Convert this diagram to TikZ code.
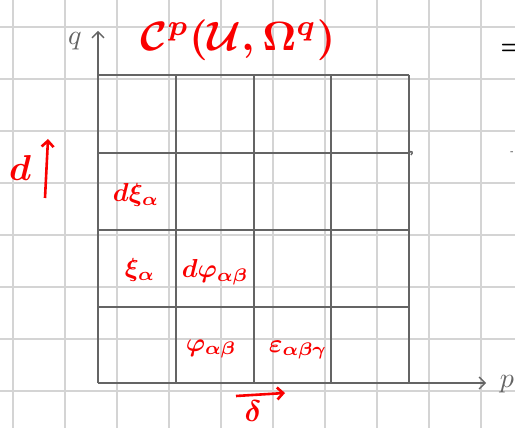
\documentclass[tikz,border=0pt]{standalone}
\usetikzlibrary{arrows.meta}
\definecolor{paper}{RGB}{212,212,212}
\definecolor{ink}{RGB}{100,100,100}
\definecolor{pen}{RGB}{250,0,0}
\tikzset{
  gridline/.style={draw=paper, line width=1.3pt},
  cell/.style={draw=ink, line width=1.4pt},
  axis/.style={draw=ink, line width=1.4pt, -{Straight Barb[length=6pt,width=12pt]}},
  redarrow/.style={draw=pen, line width=2.6pt, -{Straight Barb[length=6pt,width=12pt]}},
  entry/.style={text=pen, inner sep=0pt, scale=2.6, font=\boldmath},
  axlabel/.style={text=ink, inner sep=0pt, scale=2.8},
}
\begin{document}
\begin{tikzpicture}[x=1pt,y=-1pt]
\useasboundingbox[fill=white] (0,0) rectangle (515,428);
% background paper grid
\foreach \gx in {13,65,117,169,221,273,325,377,429,481}
  \draw[gridline] (\gx,0) -- (\gx,428);
\foreach \gy in {27,79,131,183,235,287,339,391}
  \draw[gridline] (0,\gy) -- (515,\gy);
% main grid
\coordinate (o) at (98,383);
\coordinate (qtip) at (98,31);
\coordinate (ptip) at (486,383);
\foreach \cx in {176,254,331,409}
  \draw[cell] (\cx,75) -- (\cx,383);
\foreach \cy in {75,153,230,307}
  \draw[cell] (98,\cy) -- (409,\cy);
\draw[cell] (409,153) .. controls (411,150) and (414,152) .. (411,155);
\draw[axis] (o) -- (qtip);
\draw[axis] (o) -- (ptip);
\node[axlabel] (q) at (75,41) {$q$};
\node[axlabel] (p) at (507,384) {$p$};
% title
\node[text=pen, inner sep=0pt, scale=4.1, font=\boldmath] (title) at (238,40) {$\mathcal{C}^p(\mathcal{U},\Omega^q)$};
\node[inner sep=0pt, scale=2.6, font=\boldmath] (eq) at (512,49) {$=$};
\node[inner sep=0pt] (dot) at (512,153) {-};
% d arrow
\node[text=pen, inner sep=0pt, scale=3.6, font=\boldmath] (dlabel) at (20,168) {$d$};
\coordinate (dstart) at (45,198);
\coordinate (dend) at (48,139);
\draw[redarrow] (dstart) -- (dend);
% delta arrow
\coordinate (sstart) at (236,396);
\coordinate (send) at (285,393);
\draw[redarrow] (sstart) -- (send);
\node[text=pen, inner sep=0pt, scale=3.0, font=\boldmath] (delta) at (253,411) {$\delta$};
% entries
\node[entry] (dxi) at (136,195) {$d\xi_\alpha$};
\node[entry] (xi) at (140,270) {$\xi_\alpha$};
\node[entry] (dphi) at (215,272) {$d\varphi_{\alpha\beta}$};
\node[entry] (phi) at (211,349) {$\varphi_{\alpha\beta}$};
\node[entry] (eps) at (298,350) {$\varepsilon_{\alpha\beta\gamma}$};
\end{tikzpicture}
\end{document}
